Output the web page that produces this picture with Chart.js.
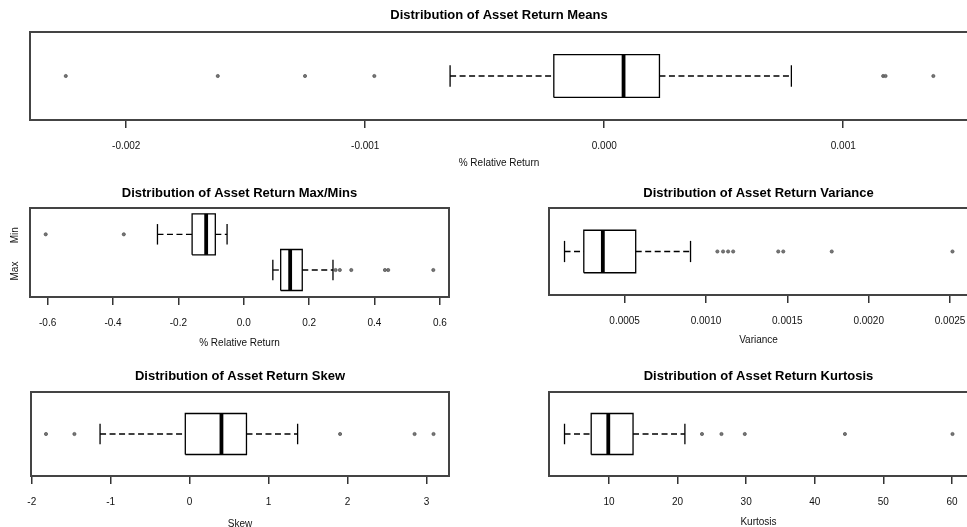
<!DOCTYPE html>
<html>
<head>
<meta charset="utf-8">
<script src="https://cdn.jsdelivr.net/npm/chart.js@4.4.1/dist/chart.umd.min.js"></script>
<style>
  html, body { margin: 0; padding: 0; background: #fff; overflow: hidden; }
  #wrap { position: relative; width: 967px; height: 527px; overflow: hidden; background: #fff; }
  #wrap canvas { position: absolute; left: 0; top: 0; }
</style>
</head>
<body>
<div id="wrap">
  <canvas id="means" width="1000" height="560"></canvas>
  <canvas id="maxmin" width="1000" height="560"></canvas>
  <canvas id="variance" width="1000" height="560"></canvas>
  <canvas id="skew" width="1000" height="560"></canvas>
  <canvas id="kurtosis" width="1000" height="560"></canvas>
</div>
<script>
// Five-number summaries are [lower whisker, Q1, median, Q3, upper whisker].

// Asset return means
const meanStats = [-0.000645, -0.000211, 0.0000808, 0.000231, 0.000783];
const meanOutliers = [-0.002253, -0.001617, -0.001252, -0.000962, 0.001167, 0.001177, 0.001377];
const meanTicks = [-0.002, -0.001, 0, 0.001];
const meanTickLabels = ['-0.002', '-0.001', '0.000', '0.001'];

// Asset return maxima / minima
const maxMinCategories = ['Max', 'Min'];
const maxStats = [0.089, 0.113, 0.142, 0.179, 0.273];
const maxOutliers = [0.281, 0.294, 0.329, 0.432, 0.442, 0.580];
const minStats = [-0.264, -0.158, -0.115, -0.087, -0.051];
const minOutliers = [-0.606, -0.367];
const maxMinTicks = [-0.6, -0.4, -0.2, 0, 0.2, 0.4, 0.6];
const maxMinTickLabels = ['-0.6', '-0.4', '-0.2', '0.0', '0.2', '0.4', '0.6'];

// Asset return variance
const varStats = [0.0001305, 0.000249, 0.000366, 0.000568, 0.000905];
const varOutliers = [0.00107, 0.001105, 0.001136, 0.001167, 0.001444, 0.001475, 0.001773, 0.002515];
const varTicks = [0.0005, 0.001, 0.0015, 0.002, 0.0025];
const varTickLabels = ['0.0005', '0.0010', '0.0015', '0.0020', '0.0025'];

// Asset return skew
const skewStats = [-1.135, -0.055, 0.403, 0.72, 1.368];
const skewOutliers = [-1.82, -1.46, 1.906, 2.85, 3.09];
const skewTicks = [-2, -1, 0, 1, 2, 3];
const skewTickLabels = ['-2', '-1', '0', '1', '2', '3'];

// Asset return kurtosis
const kurtStats = [3.52, 7.41, 9.9, 13.51, 21.07];
const kurtOutliers = [23.56, 26.4, 29.8, 44.4, 60.08];
const kurtTicks = [10, 20, 30, 40, 50, 60];
const kurtTickLabels = ['10', '20', '30', '40', '50', '60'];

Chart.defaults.font.family = '"Liberation Sans", Arial, Helvetica, sans-serif';
Chart.defaults.color = '#111';

const CANVAS_W = 1000, CANVAS_H = 560;
const INK = '#000';
const FRAME = '#444';

// Build the pieces of one horizontal box-and-whisker glyph centred at row c.
function boxDatasets(stats, outliers, c, half) {
  const [lo, q1, med, q3, hi] = stats;
  const cap = half / 2;
  const seg = (pts, extra) => Object.assign({
    data: pts, showLine: true, pointRadius: 0, borderColor: INK,
    borderWidth: 1.3, fill: false, tension: 0, borderCapStyle: 'butt'
  }, extra || {});
  return [
    seg([{x: lo, y: c}, {x: q1, y: c}], {borderDash: [6, 3.5]}),
    seg([{x: q3, y: c}, {x: hi, y: c}], {borderDash: [6, 3.5]}),
    seg([{x: lo, y: c - cap}, {x: lo, y: c + cap}]),
    seg([{x: hi, y: c - cap}, {x: hi, y: c + cap}]),
    seg([{x: q1, y: c - half}, {x: q3, y: c - half}, {x: q3, y: c + half},
         {x: q1, y: c + half}, {x: q1, y: c - half}], {borderJoinStyle: 'miter'}),
    seg([{x: med, y: c - half}, {x: med, y: c + half}], {borderWidth: 3.8}),
    {
      data: outliers.map(v => ({x: v, y: c})), showLine: false,
      pointRadius: 1.6, pointStyle: 'circle', backgroundColor: '#777',
      borderColor: '#4a4a4a', borderWidth: 0.7
    }
  ];
}

const framePlugin = {
  id: 'frame',
  afterDatasetsDraw(chart) {
    const {ctx, chartArea: a} = chart;
    ctx.save();
    ctx.strokeStyle = FRAME;
    ctx.lineWidth = 2;
    ctx.strokeRect(a.left, a.top, a.right - a.left, a.bottom - a.top);
    ctx.restore();
  }
};

function makeChart(id, cfg) {
  const p = cfg.plot;
  const titleLine = 15;
  return new Chart(document.getElementById(id), {
    type: 'scatter',
    data: {datasets: cfg.datasets},
    options: {
      responsive: false,
      animation: false,
      devicePixelRatio: 1,
      events: [],
      layout: {
        padding: {
          left: p.l,
          right: CANVAS_W - p.r,
          top: p.t - titleLine - cfg.titleGap,
          bottom: CANVAS_H - p.b - cfg.axisH
        }
      },
      plugins: {
        legend: {display: false},
        tooltip: {enabled: false},
        title: {
          display: true,
          text: cfg.title,
          color: '#000',
          font: {size: 13, weight: 'bold', lineHeight: titleLine + 'px'},
          padding: {top: 0, bottom: cfg.titleGap}
        }
      },
      scales: {
        x: {
          type: 'linear',
          position: 'bottom',
          min: cfg.xmin,
          max: cfg.xmax,
          afterBuildTicks(scale) { scale.ticks = cfg.ticks.map(v => ({value: v})); },
          afterFit(scale) { scale.height = cfg.axisH; },
          ticks: {
            autoSkip: false, maxRotation: 0, minRotation: 0,
            padding: 12,
            color: '#111',
            font: {size: 10, lineHeight: '12px'},
            callback(value) {
              const i = cfg.ticks.findIndex(t => Math.abs(t - value) < 1e-12);
              return i >= 0 ? cfg.tickLabels[i] : '';
            }
          },
          grid: {
            drawOnChartArea: false, drawTicks: true, tickLength: 8,
            color: '#333', lineWidth: 1.5
          },
          border: {display: false},
          title: {
            display: true, text: cfg.xTitle, color: '#111',
            font: {size: 10, lineHeight: '12px'},
            padding: {top: 0, bottom: 0}
          }
        },
        y: {
          type: 'linear',
          display: false,
          min: cfg.ymin,
          max: cfg.ymax
        }
      }
    },
    plugins: [framePlugin].concat(cfg.plugins || [])
  });
}

const HALF = 0.244;

makeChart('means', {
  title: 'Distribution of Asset Return Means',
  xTitle: '% Relative Return',
  plot: {l: 30, t: 32, r: 968, b: 120},
  titleGap: 9.5, axisH: 49,
  xmin: -0.0024027, xmax: 0.001522,
  ymin: 0, ymax: 1,
  ticks: meanTicks, tickLabels: meanTickLabels,
  datasets: boxDatasets(meanStats, meanOutliers, 0.5, HALF)
});

// Row labels for the two-group panel, written sideways as in a base-graphics boxplot.
const rowLabelPlugin = {
  id: 'rowLabels',
  afterDraw(chart) {
    const {ctx} = chart;
    const ys = chart.scales.y;
    ctx.save();
    ctx.fillStyle = '#111';
    ctx.font = '10px "Liberation Sans", Arial, sans-serif';
    ctx.textAlign = 'center';
    ctx.textBaseline = 'middle';
    maxMinCategories.forEach((lab, i) => {
      const py = ys.getPixelForValue(i + 1);
      ctx.save();
      ctx.translate(15, py + 1);
      ctx.rotate(-Math.PI / 2);
      ctx.fillText(lab, 0, 0);
      ctx.restore();
    });
    ctx.restore();
  }
};

makeChart('maxmin', {
  title: 'Distribution of Asset Return Max/Mins',
  xTitle: '% Relative Return',
  plot: {l: 30, t: 208, r: 449, b: 297},
  titleGap: 7.5, axisH: 52,
  xmin: -0.654, xmax: 0.628,
  ymin: 0.244, ymax: 2.737,
  ticks: maxMinTicks, tickLabels: maxMinTickLabels,
  datasets: boxDatasets(maxStats, maxOutliers, 1, 0.574)
    .concat(boxDatasets(minStats, minOutliers, 2, 0.574)),
  plugins: [rowLabelPlugin]
});

makeChart('variance', {
  title: 'Distribution of Asset Return Variance',
  xTitle: 'Variance',
  plot: {l: 549, t: 208, r: 968, b: 295},
  titleGap: 7.5, axisH: 51,
  xmin: 0.0000351, xmax: 0.0026104,
  ymin: 0, ymax: 1,
  ticks: varTicks, tickLabels: varTickLabels,
  datasets: boxDatasets(varStats, varOutliers, 0.5, HALF)
});

makeChart('skew', {
  title: 'Distribution of Asset Return Skew',
  xTitle: 'Skew',
  plot: {l: 31, t: 392, r: 449, b: 476},
  titleGap: 8, axisH: 54,
  xmin: -2.01, xmax: 3.286,
  ymin: 0, ymax: 1,
  ticks: skewTicks, tickLabels: skewTickLabels,
  datasets: boxDatasets(skewStats, skewOutliers, 0.5, HALF)
});

makeChart('kurtosis', {
  title: 'Distribution of Asset Return Kurtosis',
  xTitle: 'Kurtosis',
  plot: {l: 549, t: 392, r: 968, b: 476},
  titleGap: 8, axisH: 52,
  xmin: 1.258, xmax: 62.34,
  ymin: 0, ymax: 1,
  ticks: kurtTicks, tickLabels: kurtTickLabels,
  datasets: boxDatasets(kurtStats, kurtOutliers, 0.5, HALF)
});
</script>
</body>
</html>
